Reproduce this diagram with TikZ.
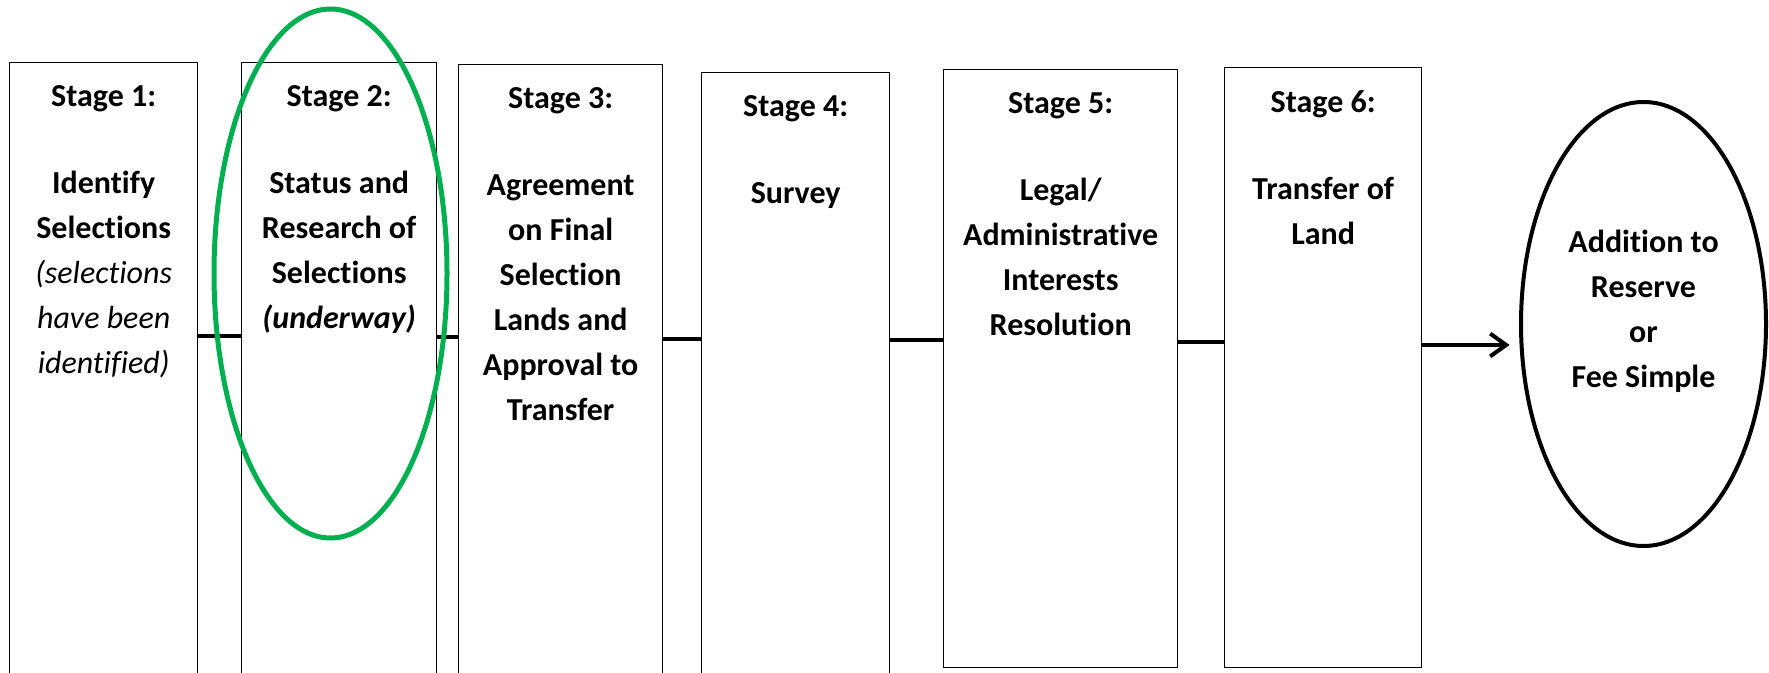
\documentclass[tikz,border=0pt]{standalone}
\usepackage{fontspec}
\setmainfont{Carlito}[Ligatures={NoCommon,NoRequired,NoContextual}]
\usepackage{tikz}
\usetikzlibrary{positioning,shapes.geometric,arrows.meta}

\definecolor{ringgreen}{RGB}{0,176,80}
\newcommand{\remark}[1]{{\normalfont\itshape #1}}

\begin{document}
\begin{tikzpicture}[x=0.75pt,y=0.75pt,yscale=-1,xscale=1,
  stagebox/.style={draw, line width=1pt, rectangle, inner sep=0pt, anchor=north west},
  stagetext/.style={inner sep=0pt, align=center, font=\fontsize{24pt}{33.7pt}\selectfont\bfseries},
  link/.style={line width=3pt},
  ring/.style={draw=ringgreen, line width=3.75pt}]
\useasboundingbox (0,0) rectangle (1769,673);

%Shape: Rectangle
\node [stagebox, minimum width=141pt, minimum height=478.5pt] (s1) at (9,62) {};
%Shape: Rectangle
\node [stagebox, minimum width=146.25pt, minimum height=478.5pt] (s2) at (241,62) {};
%Shape: Rectangle
\node [stagebox, minimum width=153pt, minimum height=477pt] (s3) at (458,64) {};
%Shape: Rectangle
\node [stagebox, minimum width=141pt, minimum height=471pt] (s4) at (701,72) {};
%Shape: Rectangle
\node [stagebox, minimum width=175.5pt, minimum height=448.5pt] (s5) at (943,69) {};
%Shape: Rectangle
\node [stagebox, minimum width=147.75pt, minimum height=450pt] (s6) at (1224,67) {};
%Shape: Ellipse
\node [draw, ellipse, line width=3pt, inner sep=0pt, minimum width=183.75pt, minimum height=333pt] (e) at (1643.5,324) {};

%Straight Lines
\draw [link] (s1.east |- 0,336) -- (s2.west |- 0,336);
\draw [link] (s2.east |- 0,337.5) -- (s3.west |- 0,337.5);
\draw [link] (s3.east |- 0,339) -- (s4.west |- 0,339);
\draw [link] (s4.east |- 0,340.5) -- (s5.west |- 0,340.5);
\draw [link] (s5.east |- 0,342) -- (s6.west |- 0,342);
\draw [link, -{Straight Barb[length=12pt,width=17pt]}, shorten >=7pt] (s6.east |- 0,345) -- (e.west |- 0,345);

%Shape: Ellipse
\draw [ring] (330.5,273.5) ellipse [x radius=116.5, y radius=264.5];

% Text Node
\node [stagetext, below=17.25pt of s1.north] (t1) {Stage 1:\\[32pt]Identify\\Selections\\\remark{(selections}\\\remark{have been}\\\remark{identified)}};
% Text Node
\node [stagetext, below=17.25pt of s2.north] (t2) {Stage 2:\\[32pt]Status and\\Research of\\Selections\\\textit{(underway)}};
% Text Node
\node [stagetext, below=17.25pt of s3.north] (t3) {Stage 3:\\[32pt]Agreement\\on Final\\Selection\\Lands and\\Approval to\\Transfer};
% Text Node
\node [stagetext, below=17.25pt of s4.north] (t4) {Stage 4:\\[32pt]Survey};
% Text Node
\node [stagetext, below=17.25pt of s5.north] (t5) {Stage 5:\\[32pt]Legal/\\Administrative\\Interests\\Resolution};
% Text Node
\node [stagetext, below=17.25pt of s6.north] (t6) {Stage 6:\\[32pt]Transfer of\\Land};
% Text Node
\node [stagetext, below=97.5pt of e.north] (t7) {Addition to\\Reserve\\or\\Fee Simple};
\end{tikzpicture}
\end{document}
